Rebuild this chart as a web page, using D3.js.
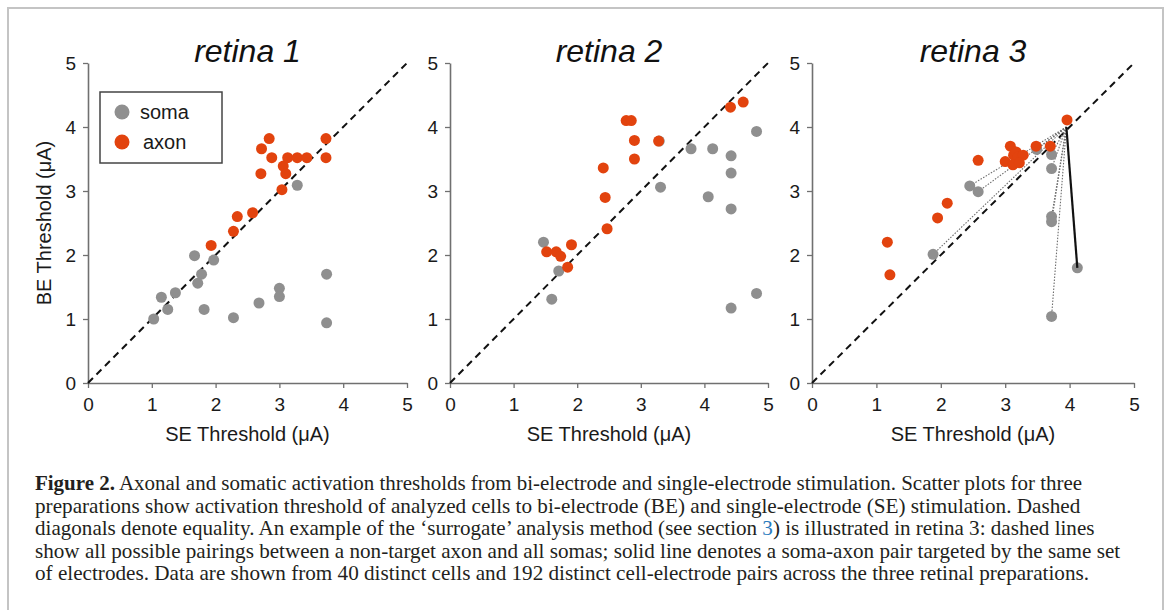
<!DOCTYPE html>
<html>
<head>
<meta charset="utf-8">
<script src="https://cdn.jsdelivr.net/npm/d3@7"></script>
<style>
  html, body { margin: 0; padding: 0; background: #fff; }
  svg { display: block; }
</style>
</head>
<body>
<div id="fig"></div>
<script>
// ── data (µA) ──────────────────────────────────────────────
const panelTitles = ['retina 1', 'retina 2', 'retina 3'];
const tickValues  = [0, 1, 2, 3, 4, 5];
const legendLabels = ['soma', 'axon'];

const retina1SomaSE = [1.03, 1.15, 1.25, 1.37, 1.67, 1.78, 1.72, 1.82, 1.97, 2.28, 2.68, 3.00, 3.00, 3.28, 3.74, 3.74];
const retina1SomaBE = [1.00, 1.34, 1.15, 1.41, 1.99, 1.70, 1.56, 1.15, 1.92, 1.02, 1.25, 1.48, 1.35, 3.09, 1.70, 0.94];
const retina1AxonSE = [1.93, 2.28, 2.34, 2.58, 2.71, 2.72, 2.84, 2.88, 3.04, 3.06, 3.10, 3.13, 3.28, 3.43, 3.73, 3.73];
const retina1AxonBE = [2.15, 2.37, 2.60, 2.66, 3.27, 3.66, 3.82, 3.52, 3.02, 3.39, 3.27, 3.52, 3.52, 3.52, 3.82, 3.52];

const retina2SomaSE = [1.47, 1.60, 1.71, 3.29, 3.31, 3.79, 4.13, 4.06, 4.42, 4.42, 4.42, 4.42, 4.82, 4.82];
const retina2SomaBE = [2.20, 1.31, 1.75, 3.78, 3.06, 3.66, 3.66, 2.91, 3.55, 3.28, 2.72, 1.17, 3.93, 1.40];
const retina2AxonSE = [1.52, 1.67, 1.74, 1.85, 1.91, 2.41, 2.44, 2.47, 2.77, 2.85, 2.90, 2.90, 3.28, 4.41, 4.61];
const retina2AxonBE = [2.05, 2.05, 1.98, 1.81, 2.16, 3.36, 2.90, 2.41, 4.10, 4.10, 3.79, 3.50, 3.78, 4.31, 4.39];

const retina3SomaSE = [1.88, 2.45, 2.58, 3.49, 3.72, 3.72, 3.72, 3.72, 3.72, 4.12];
const retina3SomaBE = [2.01, 3.08, 2.99, 3.65, 3.57, 3.35, 2.60, 2.52, 1.04, 1.80];
const retina3AxonSE = [1.17, 1.21, 1.95, 2.10, 2.58, 3.00, 3.08, 3.13, 3.17, 3.20, 3.28, 3.12, 3.22, 3.48, 3.70, 3.96];
const retina3AxonBE = [2.20, 1.69, 2.58, 2.81, 3.48, 3.46, 3.70, 3.56, 3.61, 3.53, 3.56, 3.41, 3.44, 3.70, 3.70, 4.11];

// surrogate analysis in retina 3: non-target axon paired with every soma
const surrogateAxon = [3.95, 4.0];   // [SE, BE]
const targetSomaIdx = 9;             // soma sharing the axon's electrodes (solid line)

const captionLines = [
  [['Figure 2.', 'bold'], [' Axonal and somatic activation thresholds from bi-electrode and single-electrode stimulation. Scatter plots for three', '']],
  [['preparations show activation threshold of analyzed cells to bi-electrode (BE) and single-electrode (SE) stimulation. Dashed', '']],
  [['diagonals denote equality. An example of the \u2018surrogate\u2019 analysis method (see section ', ''], ['3', 'link'], [') is illustrated in retina 3: dashed lines', '']],
  [['show all possible pairings between a non-target axon and all somas; solid line denotes a soma-axon pair targeted by the same set', '']],
  [['of electrodes. Data are shown from 40 distinct cells and 192 distinct cell-electrode pairs across the three retinal preparations.', '']]
];
const captionEnds = [1083, 1081, 1095, 1121, 1090];

// ── layout ──────────────────────────────────────────────
const W = 1165, H = 610;
const panelX = [[88, 407], [450, 768], [812, 1134]];
const yTop = 63, yBottom = 383;
const SOMA = '#8f8f8f', AXON = '#e2430e';
const SANS = 'Liberation Sans, Arial, Helvetica, sans-serif';

const svg = d3.select('#fig').append('svg')
  .attr('width', W).attr('height', H);

svg.append('rect').attr('width', W).attr('height', H).attr('fill', '#fff');

// figure frame (open at the bottom)
svg.append('path')
  .attr('d', `M8,${H} V8 H1163 V${H}`)
  .attr('fill', 'none')
  .attr('stroke', '#c4c4c4')
  .attr('stroke-width', 2);

const panels = [
  { soma: [retina1SomaSE, retina1SomaBE], axon: [retina1AxonSE, retina1AxonBE] },
  { soma: [retina2SomaSE, retina2SomaBE], axon: [retina2AxonSE, retina2AxonBE] },
  { soma: [retina3SomaSE, retina3SomaBE], axon: [retina3AxonSE, retina3AxonBE] }
];

panels.forEach((p, i) => {
  const x = d3.scaleLinear().domain([0, 5]).range(panelX[i]);
  const y = d3.scaleLinear().domain([0, 5]).range([yBottom, yTop]);
  const g = svg.append('g');
  const xc = (panelX[i][0] + panelX[i][1]) / 2;

  // ── title ──
  g.append('text')
    .attr('x', xc).attr('y', 62)
    .attr('text-anchor', 'middle')
    .attr('font-family', SANS)
    .attr('font-style', 'italic')
    .attr('font-size', 32)
    .attr('fill', '#111')
    .text(panelTitles[i]);

  // ── axes ──
  const fmt = d3.format('d');
  const xAxis = g.append('g')
    .attr('transform', `translate(0,${yBottom})`)
    .call(d3.axisBottom(x).tickValues(tickValues).tickFormat(fmt)
      .tickSize(5).tickSizeOuter(0).tickPadding(10));
  const yAxis = g.append('g')
    .attr('transform', `translate(${panelX[i][0]},0)`)
    .call(d3.axisLeft(y).tickValues(tickValues).tickFormat(fmt)
      .tickSize(5).tickSizeOuter(0).tickPadding(7));
  [xAxis, yAxis].forEach(a => {
    a.attr('color', '#707070');
    a.select('.domain').attr('stroke-width', 1.6);
    a.selectAll('.tick line').attr('stroke-width', 1.3);
    a.selectAll('.tick text')
      .attr('fill', '#1a1a1a')
      .attr('font-family', SANS)
      .attr('font-size', 19);
  });

  g.append('text')
    .attr('x', xc).attr('y', 441)
    .attr('text-anchor', 'middle')
    .attr('font-family', SANS)
    .attr('font-size', 20)
    .attr('fill', '#1a1a1a')
    .text('SE Threshold (\u03bcA)');

  if (i === 0) {
    g.append('text')
      .attr('transform', `translate(51,${(yTop + yBottom) / 2}) rotate(-90)`)
      .attr('text-anchor', 'middle')
      .attr('font-family', SANS)
      .attr('font-size', 20)
      .attr('fill', '#1a1a1a')
      .text('BE Threshold (\u03bcA)');
  }

  // ── equality diagonal ──
  g.append('line')
    .attr('x1', x(0)).attr('y1', y(0))
    .attr('x2', x(5)).attr('y2', y(5))
    .attr('stroke', '#111')
    .attr('stroke-width', 2)
    .attr('stroke-dasharray', '7,5');

  // ── surrogate pairings (retina 3) ──
  if (i === 2) {
    const [sx, sy] = p.soma;
    sx.forEach((v, k) => {
      if (k === targetSomaIdx) return;
      g.append('line')
        .attr('x1', x(surrogateAxon[0])).attr('y1', y(surrogateAxon[1]))
        .attr('x2', x(v)).attr('y2', y(sy[k]))
        .attr('stroke', '#6e6e6e')
        .attr('stroke-width', 1.1)
        .attr('stroke-dasharray', '1.5,1.5');
    });
  }

  // ── dots ──
  const somaPts = p.soma[0].map((v, k) => [v, p.soma[1][k]]);
  const axonPts = p.axon[0].map((v, k) => [v, p.axon[1][k]]);

  g.selectAll('.soma')
    .data(somaPts).enter()
    .append('circle')
      .attr('class', 'soma')
      .attr('cx', d => x(d[0]))
      .attr('cy', d => y(d[1]))
      .attr('r', 5.5)
      .attr('fill', SOMA);

  g.selectAll('.axon')
    .data(axonPts).enter()
    .append('circle')
      .attr('class', 'axon')
      .attr('cx', d => x(d[0]))
      .attr('cy', d => y(d[1]))
      .attr('r', 5.5)
      .attr('fill', AXON);

  if (i === 2) {
    const t = somaPts[targetSomaIdx];
    g.append('line')
      .attr('x1', x(surrogateAxon[0])).attr('y1', y(surrogateAxon[1]))
      .attr('x2', x(t[0])).attr('y2', y(t[1]))
      .attr('stroke', '#111')
      .attr('stroke-width', 2.2);
  }

  // ── legend (retina 1 only) ──
  if (i === 0) {
    const lg = g.append('g');
    lg.append('rect')
      .attr('x', 100).attr('y', 92)
      .attr('width', 122).attr('height', 71)
      .attr('fill', '#fff')
      .attr('stroke', '#444')
      .attr('stroke-width', 1.5);
    legendLabels.forEach((lab, k) => {
      lg.append('circle')
        .attr('cx', 122).attr('cy', 112 + k * 30)
        .attr('r', 7.5)
        .attr('fill', k === 0 ? SOMA : AXON);
      lg.append('text')
        .attr('x', k === 0 ? 140 : 143).attr('y', 119 + k * 30)
        .attr('font-family', SANS)
        .attr('font-size', 20)
        .attr('fill', '#1a1a1a')
        .text(lab);
    });
  }
});

// ── caption ───────────────────────────────────────────────
const capX = 35, capY0 = 490, capLead = 22.6;
captionLines.forEach((parts, li) => {
  const t = svg.append('text')
    .attr('font-family', 'Liberation Serif, Times New Roman, serif')
    .attr('font-size', 20)
    .attr('fill', '#231f20');
  parts.forEach(([str, kind]) => {
    const ts = t.append('tspan').text(str);
    if (kind === 'bold') ts.attr('font-weight', 'bold');
    if (kind === 'link') ts.attr('fill', '#2b7bbd');
  });
  const natural = t.node().getComputedTextLength();
  const sx = (captionEnds[li] - capX) / natural;
  t.attr('transform', `translate(${capX},${capY0 + li * capLead}) scale(${sx},1)`);
});
</script>
</body>
</html>
